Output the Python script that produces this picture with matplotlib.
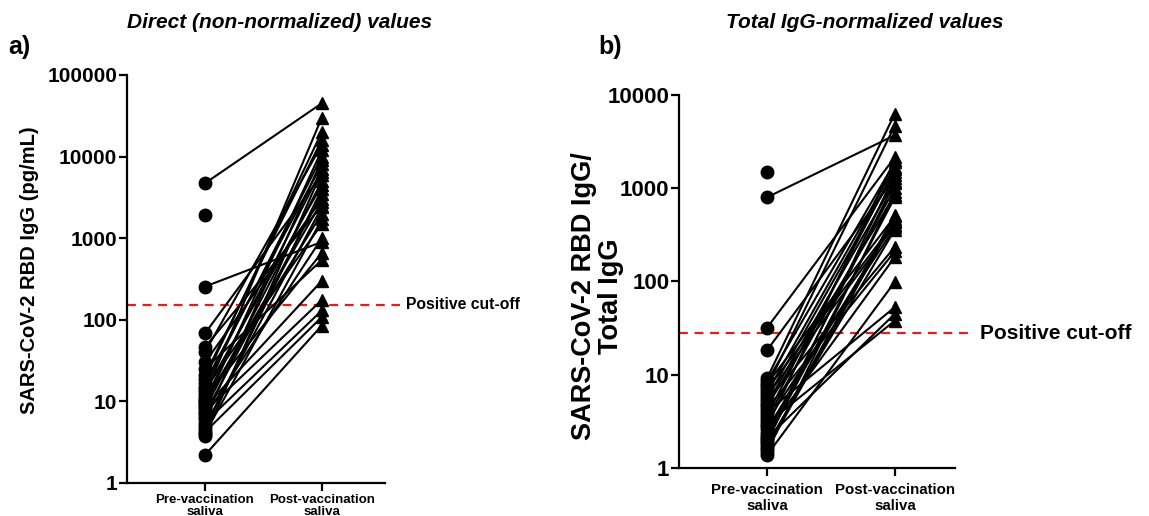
import numpy as np
import matplotlib
matplotlib.use("Agg")
import matplotlib.pyplot as plt
from matplotlib.ticker import FixedLocator, FixedFormatter, NullLocator

plt.rcParams['font.family'] = ['Liberation Sans', 'DejaVu Sans']

categories = ["Pre-vaccination\nsaliva", "Post-vaccination\nsaliva"]

# Panel a: direct values (pg/mL)
direct_pre = [4700, 1900, 255, 68, 46, 40, 30, 25, 19, 17, 15, 14, 13, 12, 11, 10.5,
              10, 9, 8.5, 8, 7.5, 7, 6.5, 6, 5.5, 5, 4.6, 4.2, 4.0, 3.8, 2.2, 21, 9.5]
direct_post = [45000, np.nan, 900, 6000, 2500, 14000, 3000, 540, 20000, 8000, 10000, 1500,
               4500, 30000, 660, 7000, 2000, 12000, 300, 5000, 175, 3500, 1000, 9000, 130,
               2400, 4000, 108, 1700, 6500, 85, 16000, 2800]
direct_cutoff = 152

# Panel b: total IgG-normalized values
norm_pre = [1500, 800, 32, 18.4, 9.2, 8.5, 8, 7.5, 7, 6.5, 6, 5.6, 5.2, 4.9, 4.6, 4.3, 4.0,
            3.7, 3.4, 3.2, 3.0, 2.8, 2.6, 2.4, 2.2, 2.1, 2.0, 1.9, 1.8, 1.7, 1.6, 1.5, 1.38]
norm_post = [np.nan, 3700, 2150, 1300, 6300, 1900, 500, 4700, 430, 1700, 400, 1500, 235,
             1200, 850, 210, 53, 1600, 1000, 380, 38, 2000, 450, 183, 1150, 45, 800, 1400,
             360, 520, 470, 900, 99]
norm_cutoff = 28

fig = plt.figure(figsize=(11.49, 5.16), dpi=100)

def draw_panel(ax, pre, post, ylim, yticks, tick_fs, xtick_fs, xpad, xls, cutoff, cut_text,
               cut_fs, xlim, cut_xmax, ylabel, ylabel_fs, label_xy):
    x = [0, 1]
    for a, b in zip(pre, post):
        if not np.isnan(b):
            ax.plot(x, [a, b], color='black', lw=1.5, zorder=2)
    ax.plot(np.zeros(len(pre)), pre, 'o', color='black', ms=9, zorder=3, clip_on=False)
    ax.plot(np.ones(len(post)), post, '^', color='black', ms=9, zorder=3, clip_on=False)
    ax.set_yscale('log')
    ax.set_ylim(*ylim)
    ax.set_xlim(*xlim)
    ax.yaxis.set_major_locator(FixedLocator(yticks))
    ax.yaxis.set_major_formatter(FixedFormatter([str(int(t)) for t in yticks]))
    ax.yaxis.set_minor_locator(NullLocator())
    ax.set_xticks(x)
    ax.set_xticklabels(categories, fontsize=xtick_fs, fontweight='bold', linespacing=xls)
    for lab in ax.get_yticklabels():
        lab.set_fontsize(tick_fs)
        lab.set_fontweight('bold')
    for s in ['top', 'right']:
        ax.spines[s].set_visible(False)
    for s in ['left', 'bottom']:
        ax.spines[s].set_linewidth(1.6)
    ax.tick_params(axis='both', length=6, width=1.6)
    ax.tick_params(axis='y', pad=1)
    ax.tick_params(axis='x', pad=xpad)
    ax.axhline(cutoff, xmin=0, xmax=cut_xmax, color='#e02020', lw=1.6, ls=(0, (4, 3)),
               clip_on=False, zorder=1)
    ax.text(cut_xmax + 0.02, cutoff, cut_text, transform=ax.get_yaxis_transform(),
            fontsize=cut_fs, fontweight='bold', va='center', ha='left')
    ax.set_ylabel(ylabel, fontsize=ylabel_fs, fontweight='bold', linespacing=1.05)
    ax.yaxis.set_label_coords(*label_xy)

ax1 = fig.add_axes([0.1105, 0.064, 0.2245, 0.7907])
draw_panel(ax1, direct_pre, direct_post, (1, 100000), [1, 10, 100, 1000, 10000, 100000],
           15, 9.5, 2, 0.95, direct_cutoff, "Positive cut-off", 11.3, (-0.667, 1.54), 1.06,
           "SARS-CoV-2 RBD IgG (pg/mL)", 14.5, (-0.34, 0.522))

ax2 = fig.add_axes([0.591, 0.093, 0.240, 0.723])
draw_panel(ax2, norm_pre, norm_post, (1, 10000), [1, 10, 100, 1000, 10000],
           16, 10.8, 5, 1.15, norm_cutoff, "Positive cut-off", 15, (-0.69, 1.47), 1.07,
           "SARS-CoV-2 RBD IgG/\nTotal IgG", 19.5, (-0.2, 0.46))

fig.text(280/1149, 1 - 22/516, "Direct (non-normalized) values", fontsize=15,
         fontweight='bold', fontstyle='italic', ha='center', va='center')
fig.text(865/1149, 1 - 22/516, "Total IgG-normalized values", fontsize=15,
         fontweight='bold', fontstyle='italic', ha='center', va='center')
fig.text(8/1149, 1 - 47/516, "a)", fontsize=18, fontweight='bold', ha='left', va='center')
fig.text(598/1149, 1 - 47/516, "b)", fontsize=18, fontweight='bold', ha='left', va='center')

fig.savefig("out.png", dpi=100)
